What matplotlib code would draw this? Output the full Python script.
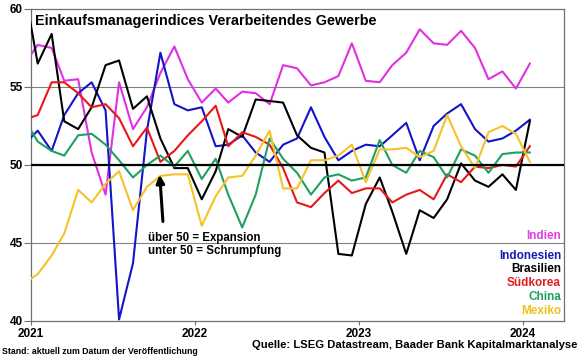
import numpy as np
import pandas as pd
import matplotlib
matplotlib.use("Agg")
import matplotlib.pyplot as plt
import matplotlib.dates as mdates

plt.rcParams['font.family'] = ['Liberation Sans', 'DejaVu Sans']
plt.rcParams['font.weight'] = 'bold'

# Monatswerte Dez 2020 bis Jan 2024
months = pd.date_range("2020-12-01", "2024-01-01", freq="MS") + pd.Timedelta(days=15)

indien = [56.4, 57.7, 57.5, 55.4, 55.5, 50.8, 48.1, 55.3, 52.3, 53.7, 55.9, 57.6, 55.5,
          54.0, 54.9, 54.0, 54.7, 54.6, 53.9, 56.4, 56.2, 55.1, 55.3, 55.7, 57.8,
          55.4, 55.3, 56.4, 57.2, 58.7, 57.8, 57.7, 58.6, 57.5, 55.5, 56.0, 54.9, 56.5]
indonesien = [51.3, 52.2, 50.9, 53.2, 54.6, 55.3, 53.5, 40.1, 43.7, 52.2, 57.2, 53.9, 53.5,
              53.7, 51.2, 51.3, 51.9, 50.8, 50.2, 51.3, 51.7, 53.7, 51.8, 50.3, 50.9,
              51.3, 51.2, 51.9, 52.7, 50.3, 52.5, 53.3, 53.9, 52.3, 51.5, 51.7, 52.2, 52.9]
brasilien = [61.5, 56.5, 58.4, 52.8, 52.3, 53.7, 56.4, 56.7, 53.6, 54.4, 51.7, 49.8, 49.8,
             47.8, 49.6, 52.3, 51.8, 54.2, 54.1, 54.0, 51.9, 51.1, 50.8, 44.3, 44.2,
             47.5, 49.2, 47.0, 44.3, 47.1, 46.6, 47.8, 50.1, 49.0, 48.6, 49.4, 48.4, 52.8]
suedkorea = [52.9, 53.2, 55.3, 55.3, 54.6, 53.7, 53.9, 53.0, 51.2, 52.4, 50.2, 50.9, 51.9,
             52.8, 53.8, 51.2, 52.1, 51.8, 51.3, 49.8, 47.6, 47.3, 48.2, 49.0, 48.2,
             48.5, 48.5, 47.6, 48.1, 48.4, 47.8, 49.4, 48.9, 49.9, 49.8, 50.0, 49.9, 51.2]
china = [53.0, 51.5, 50.9, 50.6, 51.9, 52.0, 51.3, 50.3, 49.2, 50.0, 50.6, 49.9, 50.9,
         49.1, 50.4, 48.1, 46.0, 48.1, 51.7, 50.4, 49.5, 48.1, 49.2, 49.4, 49.0,
         49.2, 51.6, 50.0, 49.5, 50.9, 50.5, 49.2, 51.0, 50.6, 49.5, 50.7, 50.8, 50.8]
mexiko = [42.4, 43.0, 44.2, 45.6, 48.4, 47.6, 48.8, 49.6, 47.1, 48.6, 49.3, 49.4, 49.4,
          46.1, 48.0, 49.2, 49.3, 50.6, 52.2, 48.5, 48.5, 50.3, 50.3, 50.6, 51.3,
          48.9, 51.0, 51.0, 51.1, 50.5, 50.9, 53.2, 51.2, 49.8, 52.1, 52.5, 52.0, 50.2]

names = ["Indien", "Indonesien", "Brasilien", "Südkorea", "China", "Mexiko"]
series = [indien, indonesien, brasilien, suedkorea, china, mexiko]
colors = ["#E030E0", "#1414C8", "#000000", "#E81818", "#20A060", "#F5C228"]
label_colors = ["#E040E0", "#1A1AB4", "#000000", "#E02020", "#20A060", "#F0C020"]

fig = plt.figure(figsize=(5.8, 3.58), dpi=100)
ax = fig.add_axes([0.0534, 0.1034, 0.919, 0.8715])

ax.axhline(45, color="#808080", lw=0.8, zorder=1)
ax.axhline(55, color="#808080", lw=0.8, zorder=1)

for vals, c in zip(series, colors):
    ax.plot(months, vals, color=c, lw=1.5, zorder=3)

ax.axhline(50, color="black", lw=1.6, zorder=4)

ax.set_ylim(40, 60)
ax.set_yticks([40, 45, 50, 55, 60])
ax.set_xlim(pd.Timestamp("2021-01-01"), pd.Timestamp("2024-04-01"))
ax.xaxis.set_major_locator(mdates.YearLocator())
ax.xaxis.set_major_formatter(mdates.DateFormatter("%Y"))

for s in ax.spines.values():
    s.set_color("#707070")
    s.set_linewidth(0.9)
ax.tick_params(axis="y", length=5, color="#707070", labelsize=8.5, pad=1)
ax.tick_params(axis="x", length=3, color="#707070", labelsize=8.5, pad=2)
for t in ax.get_xticklabels() + ax.get_yticklabels():
    t.set_fontweight("bold")

fig.text(35 / 580, 1 - 21 / 358, "Einkaufsmanagerindices Verarbeitendes Gewerbe",
         fontsize=10.4, fontweight="bold", va="center", ha="left")

# Legende als farbige Texte
ys = [236, 256, 269, 282.5, 296.5, 310.5]
for n, c, y in zip(names, label_colors, ys):
    fig.text(561 / 580, 1 - y / 358, n, color=c, fontsize=8.5, fontweight="bold",
             ha="right", va="center")

# Pfeil und Erklärung
ax.annotate("", xy=(pd.Timestamp("2021-10-14"), 49.55),
            xytext=(pd.Timestamp("2021-10-22"), 46.2),
            arrowprops=dict(arrowstyle="-|>", color="black", lw=2.2, mutation_scale=12),
            zorder=5)
fig.text(148 / 580, 1 - 238 / 358, "über 50 = Expansion", fontsize=8.3,
         fontweight="bold", ha="left", va="center")
fig.text(148 / 580, 1 - 251 / 358, "unter 50 = Schrumpfung", fontsize=8.3,
         fontweight="bold", ha="left", va="center")

fig.text(2 / 580, 1 - 351 / 358, "Stand: aktuell zum Datum der Veröffentlichung",
         fontsize=6.3, fontweight="bold", ha="left", va="center")
fig.text(577 / 580, 1 - 345 / 358, "Quelle: LSEG Datastream, Baader Bank Kapitalmarktanalyse",
         fontsize=8.1, fontweight="bold", ha="right", va="center")

fig.savefig("out.png", dpi=100)
